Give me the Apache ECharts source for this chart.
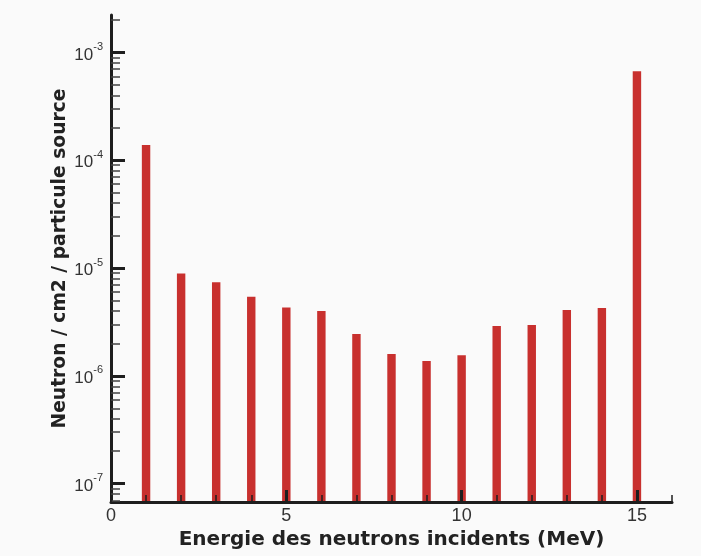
<!DOCTYPE html>
<html>
<head>
<meta charset="utf-8">
<script src="https://cdn.jsdelivr.net/npm/echarts@6/dist/echarts.min.js"></script>
<style>
html,body{margin:0;padding:0;background:#fafafa;}
#chart{width:701px;height:556px;}
</style>
</head>
<body>
<div id="chart"></div>
<script>
// Data
const energies = [1, 2, 3, 4, 5, 6, 7, 8, 9, 10, 11, 12, 13, 14, 15];
const flux = [1.38e-4, 8.9e-6, 7.36e-6, 5.41e-6, 4.31e-6, 3.99e-6, 2.44e-6, 1.59e-6, 1.37e-6, 1.55e-6, 2.90e-6, 2.96e-6, 4.07e-6, 4.25e-6, 6.68e-4];
const xLabels = [0, 5, 10, 15];
const yMajor = [1e-7, 1e-6, 1e-5, 1e-4, 1e-3];
const yMinor = [];
[1e-8, 1e-7, 1e-6, 1e-5, 1e-4, 1e-3].forEach(function (d) {
  for (let k = 2; k <= 9; k++) yMinor.push(k * d);
});
const xMin = 0, xMax = 16;
const yMin = 6.76e-8, yMax = 2.22e-3;
const barWidthUnits = 0.24;

const chart = echarts.init(document.getElementById('chart'), null, {renderer: 'canvas'});
const font = '"Liberation Sans", Arial, sans-serif';
const titleFont = '"DejaVu Sans", "Liberation Sans", sans-serif';
const axisColor = '#1e1e1e';

const option = {
  backgroundColor: '#fafafa',
  animation: false,
  grid: {left: 111, right: 29, top: 15, bottom: 54, containLabel: false},
  xAxis: [
    {
      type: 'value', min: xMin, max: xMax, interval: 5, z: 5,
      axisLine: {show: true, lineStyle: {color: axisColor, width: 3}},
      axisTick: {show: true, inside: true, length: 12, customValues: [5, 10, 15], lineStyle: {color: axisColor, width: 3}},
      axisLabel: {show: true, customValues: xLabels, color: '#333', fontSize: 18, fontFamily: font, margin: 5},
      splitLine: {show: false},
      name: 'Energie des neutrons incidents (MeV)',
      nameLocation: 'middle', nameGap: 25,
      nameTextStyle: {fontSize: 20, fontWeight: 'bold', color: '#222', fontFamily: titleFont}
    },
    {
      type: 'value', min: xMin, max: xMax, interval: 1, z: 5, position: 'bottom',
      axisLine: {show: false},
      axisTick: {show: true, inside: true, length: 7, lineStyle: {color: axisColor, width: 1.5}},
      axisLabel: {show: false},
      splitLine: {show: false}
    }
  ],
  yAxis: [
    {
      type: 'log', logBase: 10, min: yMin, max: yMax, z: 5, position: 'left',
      axisLine: {show: true, lineStyle: {color: axisColor, width: 3}},
      axisTick: {show: true, inside: true, length: 14, customValues: yMajor, lineStyle: {color: axisColor, width: 3}},
      axisLabel: {
        show: true, customValues: yMajor, margin: 8,
        formatter: function (v) {
          const e = Math.round(Math.log10(v));
          return '{a|10}{b|' + e + '}';
        },
        rich: {
          a: {fontSize: 17, color: '#333', fontFamily: font, lineHeight: 22, verticalAlign: 'bottom'},
          b: {fontSize: 11, color: '#333', fontFamily: font, lineHeight: 12, verticalAlign: 'top'}
        }
      },
      splitLine: {show: false},
      name: 'Neutron / cm2 / particule source',
      nameLocation: 'middle', nameGap: 41, nameRotate: 90, nameMoveOverlap: false,
      nameTextStyle: {fontSize: 18.7, fontWeight: 'bold', color: '#222', fontFamily: titleFont}
    },
    {
      type: 'log', logBase: 10, min: yMin, max: yMax, z: 5, position: 'left',
      axisLine: {show: false},
      axisTick: {show: true, inside: true, length: 9, customValues: yMinor.filter(function (v) { return v >= yMin && v <= yMax; }), lineStyle: {color: '#444', width: 1.5}},
      axisLabel: {show: false},
      splitLine: {show: false}
    }
  ],
  series: [{
    type: 'custom',
    xAxisIndex: 0, yAxisIndex: 0,
    z: 2,
    data: energies.map(function (e, i) { return [e, flux[i]]; }),
    renderItem: function (params, api) {
      const x = api.value(0), v = api.value(1);
      const top = api.coord([x, v]);
      const w = api.size([barWidthUnits, 0], [x, v])[0];
      const baseY = params.coordSys.y + params.coordSys.height;
      return {
        type: 'rect',
        shape: {x: top[0] - w / 2, y: top[1], width: w, height: baseY - top[1]},
        style: {fill: '#c8302e'}
      };
    }
  }]
};
chart.setOption(option);
</script>
</body>
</html>
